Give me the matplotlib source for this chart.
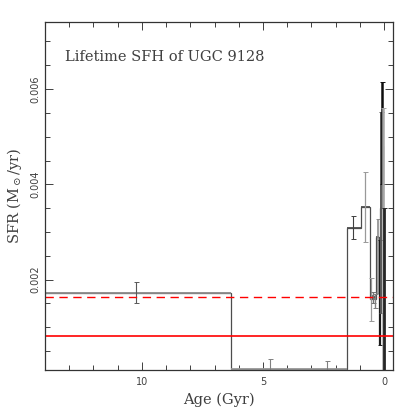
import numpy as np
import matplotlib
matplotlib.use('Agg')
import matplotlib.pyplot as plt
from matplotlib.ticker import MultipleLocator

plt.rcParams['mathtext.fontset'] = 'dejavuserif'
params = {'xtick.top': True, 'ytick.right': True, 'xtick.direction': 'in', 'ytick.direction': 'in'}
plt.rcParams.update(params)

# bin edges in age (Gyr), oldest first, and SFR per bin (Msun/yr)
age_edges = [14.0, 6.3, 1.54, 0.96, 0.59, 0.50, 0.41, 0.33, 0.23, 0.16, 0.11, 0.07, 0.03, 0.0]
sfr = [0.00173, 0.00013, 0.00309, 0.00353, 0.00160, 0.00165, 0.00160,
       0.00290, 0.00260, 0.00350, 0.00480, 0.00280, 0.00100]
# error bar positions and limits
err_age = [10.25, 4.72, 2.36, 1.27, 0.79, 0.54, 0.45, 0.37, 0.27, 0.19, 0.13, 0.09, 0.05, 0.01]
err_val = [0.00173, 0.00013, 0.00013, 0.00309, 0.00353, 0.00160, 0.00165, 0.00160,
           0.00290, 0.00260, 0.00350, 0.00480, 0.00280, 0.00100]
err_lo = [0.00150, 0.0, 0.0, 0.00286, 0.00280, 0.00113, 0.00150, 0.00140,
          0.00172, 0.00063, 0.00130, 0.00400, 0.0, 0.0]
err_hi = [0.00195, 0.00033, 0.00029, 0.00334, 0.00427, 0.00203, 0.00175, 0.00170,
          0.00328, 0.00283, 0.00551, 0.00614, 0.00560, 0.00350]
err_col = ['0.35', '0.5', '0.5', '0.25', '0.6', '0.6', '0.45', '0.5',
           '0.55', '0.1', '0.35', '0.05', '0.65', '0.15']
err_lw = [0.8, 0.8, 0.8, 0.8, 0.9, 0.9, 1.0, 1.0, 1.2, 1.6, 1.4, 1.8, 1.8, 2.0]
bin_col = ['0.55', '0.6', '0.3', '0.3', '0.5', '0.4', '0.5',
           '0.35', '0.1', '0.3', '0.0', '0.6', '0.2']

sfr_mean = 0.00163
sfr_current = 0.00081

fig = plt.figure(figsize=(4.15, 4.15), dpi=100)
ax = fig.add_axes([0.108, 0.108, 0.840, 0.838])

ax.stairs(sfr, age_edges, color='0.3', lw=0.9, baseline=None)
for i in range(len(sfr)):
    ax.hlines(sfr[i], age_edges[i], age_edges[i+1], color=bin_col[i], lw=1.3)

for i in range(len(err_age)):
    ax.errorbar(
        err_age[i], err_val[i],
        yerr=[[err_val[i] - err_lo[i]], [err_hi[i] - err_val[i]]],
        fmt='none', ecolor=err_col[i], elinewidth=err_lw[i], capsize=1.8, capthick=0.7,
    )

ax.axhline(sfr_current, color='red', lw=1.2)
ax.axhline(sfr_mean, color='red', lw=1.0, ls=(0, (6, 4)))

ax.set_xlim(14.0, -0.38)
ax.set_ylim(0.0001, 0.0074)

ax.xaxis.set_major_locator(MultipleLocator(5))
ax.xaxis.set_minor_locator(MultipleLocator(1))
ax.yaxis.set_major_locator(MultipleLocator(0.002))
ax.yaxis.set_minor_locator(MultipleLocator(0.0005))
ax.tick_params(which='major', length=6, width=0.7, labelsize=7, colors='0.25')
ax.tick_params(which='minor', length=3.5, width=0.7, colors='0.25')
ax.tick_params(axis='x', pad=5)
ax.set_xticks([10, 5, 0])
ax.set_xticklabels(['10', '5', '0'])
ax.set_yticks([0.002, 0.004, 0.006])
ax.set_yticklabels(['0.002', '0.004', '0.006'], rotation=90, va='center')

for sp in ax.spines.values():
    sp.set_color('0.2')
    sp.set_linewidth(0.9)

ax.text(0.057, 0.9, 'Lifetime SFH of UGC 9128', transform=ax.transAxes,
        family='DejaVu Serif', fontsize=10.5, color='0.25', va='center')

ax.set_xlabel('Age (Gyr)', family='DejaVu Serif', fontsize=10.5, color='0.25', labelpad=4)
ax.set_ylabel(r'SFR (M$_\odot$/yr)', family='DejaVu Serif', fontsize=10.5, color='0.25', labelpad=4)

plt.savefig('out.png', dpi=100)
